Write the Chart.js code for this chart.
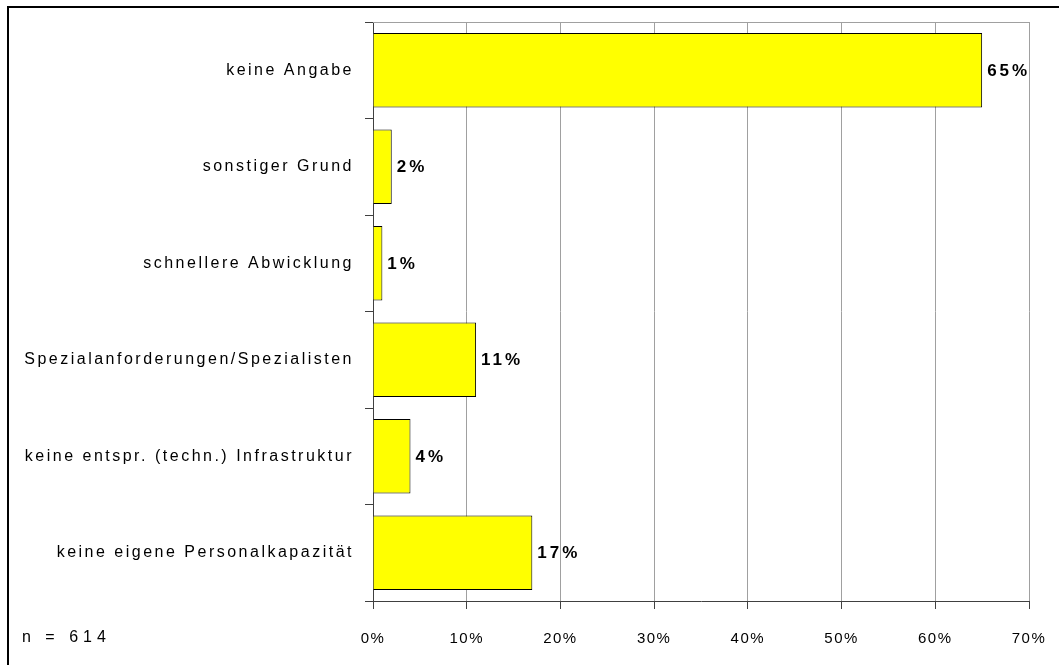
<!DOCTYPE html>
<html>
<head>
<meta charset="utf-8">
<script src="https://cdn.jsdelivr.net/npm/chart.js@4.4.1/dist/chart.umd.min.js"></script>
<style>
  html, body { margin: 0; padding: 0; background: #fff; }
  canvas { display: block; }
</style>
</head>
<body>
<canvas id="chart" width="1059" height="665"></canvas>
<script>
const categories = [
    'keine Angabe',
    'sonstiger Grund',
    'schnellere Abwicklung',
    'Spezialanforderungen/Spezialisten',
    'keine entspr. (techn.) Infrastruktur',
    'keine eigene Personalkapazität'
];
const values = [65, 2, 1, 11, 4, 17];
const xTicks = [0, 10, 20, 30, 40, 50, 60, 70];
const sampleNote = 'n = 614';

const FONT = '"Liberation Sans", Arial, sans-serif';

// the old chart uses very wide letter spacing, Chart.js has no option for it
function spaceLabels(scale, sp) {
    if (scale._spaced) return;
    const orig = scale.drawLabels.bind(scale);
    scale.drawLabels = function (area) {
        const c = this.ctx;
        c.save();
        c.letterSpacing = sp;
        orig(area);
        c.restore();
    };
    scale._spaced = true;
}

const framePlugin = {
    id: 'frame',
    beforeDraw(chart) {
        const c = chart.ctx;
        c.save();
        c.fillStyle = '#fff';
        c.fillRect(0, 0, chart.width, chart.height);
        c.fillStyle = '#000';
        c.fillRect(7, 6, chart.width - 7, 2);
        c.fillRect(7, 6, 2, chart.height - 6);
        c.restore();
        spaceLabels(chart.scales.y, '2.5px');
        spaceLabels(chart.scales.x, '1.5px');
    },
    afterDraw(chart) {
        const c = chart.ctx;
        const a = chart.chartArea;
        c.save();
        c.strokeStyle = '#a0a0a0';
        c.lineWidth = 1;
        c.beginPath();
        c.moveTo(a.left, Math.round(a.top) + 0.5);
        c.lineTo(a.right, Math.round(a.top) + 0.5);
        c.stroke();

        c.fillStyle = '#000';
        c.font = '16px ' + FONT;
        c.letterSpacing = '5px';
        c.textBaseline = 'middle';
        c.textAlign = 'left';
        c.fillText(sampleNote, 22, 638);
        c.restore();
    }
};

const valueLabels = {
    id: 'valueLabels',
    afterDatasetsDraw(chart) {
        const c = chart.ctx;
        const meta = chart.getDatasetMeta(0);
        c.save();
        c.fillStyle = '#000';
        c.font = 'bold 17px ' + FONT;
        c.letterSpacing = '3px';
        c.textBaseline = 'middle';
        c.textAlign = 'left';
        meta.data.forEach((bar, i) => {
            c.fillText(values[i] + '%', bar.x + 5, bar.y + 1);
        });
        c.restore();
    }
};

new Chart(document.getElementById('chart'), {
    type: 'bar',
    data: {
        labels: categories,
        datasets: [{
            data: values,
            backgroundColor: '#ffff00',
            borderColor: '#000',
            borderWidth: 1,
            barPercentage: 0.77,
            categoryPercentage: 1
        }]
    },
    options: {
        indexAxis: 'y',
        responsive: false,
        animation: false,
        devicePixelRatio: 1,
        layout: { padding: { top: 22, right: 30, left: 0, bottom: 0 } },
        plugins: {
            legend: { display: false },
            tooltip: { enabled: false }
        },
        scales: {
            x: {
                position: 'bottom',
                min: 0,
                max: 70,
                afterBuildTicks: (s) => { s.ticks = xTicks.map(v => ({ value: v })); },
                afterFit: (s) => {
                    s.height = 64;
                    s.paddingLeft = 0;
                    s.paddingRight = 0;
                },
                grid: { color: '#a0a0a0', tickColor: '#404040', tickLength: 8, lineWidth: 1 },
                border: { color: '#404040' },
                ticks: {
                    padding: 21,
                    color: '#000',
                    font: { family: FONT, size: 15 },
                    callback: (v) => v + '%'
                }
            },
            y: {
                offset: true,
                afterFit: (s) => { s.width = 373; },
                grid: { drawOnChartArea: false, offset: true, tickColor: '#404040', tickLength: 8 },
                border: { color: '#404040' },
                ticks: {
                    padding: 11,
                    color: '#000',
                    font: { family: FONT, size: 16 }
                }
            }
        }
    },
    plugins: [framePlugin, valueLabels]
});
</script>
</body>
</html>
